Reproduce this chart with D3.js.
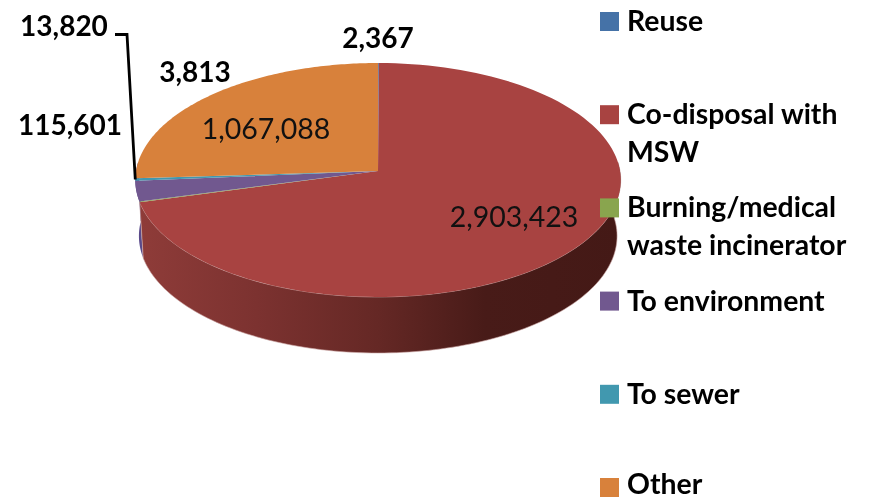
<!DOCTYPE html>
<html>
<head>
<meta charset="utf-8">
<style>
  html, body { margin: 0; padding: 0; background: #fff; }
  svg { display: block; }
  text { font-family: Lato, "Open Sans", sans-serif; fill: #000; filter: blur(0.45px); }
  .outer { font-size: 28px; font-weight: 700; }
  .inner { font-size: 28.5px; font-weight: 400; fill: #111; }
  .legend { font-size: 28.4px; font-weight: 700; }
</style>
</head>
<body>
<svg width="870" height="501"></svg>
<script src="https://d3js.org/d3.v7.min.js"></script>
<script>
const categories = ["Reuse", "Co-disposal with MSW", "Burning/medical waste incinerator", "To environment", "To sewer", "Other"];
const values = [2367, 2903423, 3813, 115601, 13820, 1067088];
const colors = ["#4572a7", "#a84341", "#89a54e", "#71588f", "#4198af", "#d8813b"];
const legendLines = [["Reuse"], ["Co-disposal with", "MSW"], ["Burning/medical", "waste incinerator"], ["To environment"], ["To sewer"], ["Other"]];
const labelText = ["2,367", "2,903,423", "3,813", "115,601", "13,820", "1,067,088"];

const svg = d3.select("svg");

// pie tilted in perspective: the back is squashed, the front is stretched
const tilt = 1 / 13;
const xScale = d3.scaleLinear().domain([-1, 1]).range([378 - 242, 378 + 242]);
const yScale = d3.scaleLinear().domain([-1, 1]).range([171 + 116.3, 171 - 116.3]);
const depth = 56;
const bottomShrink = 0.985;

const rim = a => {
  const w = 1 + tilt * Math.cos(a);
  return [xScale(Math.sin(a) / w), yScale(Math.cos(a) / w)];
};
const centre = [xScale(0), yScale(0)];
const arcPoints = (a0, a1) => d3.range(0, 1.0001, 1 / 120).map(t => rim(a0 + (a1 - a0) * t));

const arcs = d3.pie().sort(null)(values);
const line = d3.line();

const defs = svg.append("defs");
const grad = defs.append("linearGradient").attr("id", "wall")
  .attr("gradientUnits", "userSpaceOnUse")
  .attr("x1", 136).attr("x2", 620).attr("y1", 0).attr("y2", 0);
[[0, "#8f3c39"], [0.25, "#7c3230"], [0.5, "#652825"], [0.72, "#481b18"], [1, "#441916"]].forEach(s =>
  grad.append("stop").attr("offset", s[0]).attr("stop-color", s[1]));

// side walls, only for the part of the rim that faces the viewer
const wallEnd = Math.PI * 1.5 + Math.asin(tilt);
const wallStart = Math.PI * 0.5 - Math.asin(tilt);
const wallPath = (a0, a1) => {
  const top = arcPoints(a0, a1);
  const bottom = top.map(p => [centre[0] + (p[0] - centre[0]) * bottomShrink, p[1] + depth]).reverse();
  return line(top.concat(bottom)) + "Z";
};
svg.append("path").attr("d", wallPath(arcs[3].startAngle, wallEnd)).attr("fill", "#5a4a8a");
svg.append("path").attr("d", wallPath(wallStart, arcs[1].endAngle)).attr("fill", "url(#wall)")
  .attr("stroke", "#c9a3a1").attr("stroke-width", 0.6);

// top face
svg.append("g").selectAll("path").data(arcs).join("path")
  .attr("d", d => line([centre].concat(arcPoints(d.startAngle, d.endAngle))) + "Z")
  .attr("fill", (d, i) => colors[i]);

// leader for the To sewer label
svg.append("path")
  .attr("d", line([[115, 34.5], [127, 34.5], rim((arcs[4].startAngle + arcs[4].endAngle) / 2)]))
  .attr("fill", "none").attr("stroke", "#000").attr("stroke-width", 2.8);

const labels = svg.append("g");
const labelPos = [[378, 48, "outer"], [514, 227, "inner"], [195, 82, "outer"], [70, 135, "outer"], [64, 36, "outer"], [266, 139, "inner"]];
labels.selectAll("text").data(labelText).join("text")
  .attr("x", (d, i) => labelPos[i][0])
  .attr("y", (d, i) => labelPos[i][1])
  .attr("class", (d, i) => labelPos[i][2])
  .attr("text-anchor", "middle")
  .text(d => d);

// legend sits on top of the pie, rows are evenly spaced
const legendY = d3.scalePoint().domain(categories).range([12, 478]);
const rows = svg.append("g").selectAll("g").data(categories).join("g")
  .attr("transform", d => `translate(600,${legendY(d)})`);
rows.append("rect").attr("width", 19).attr("height", 19).attr("fill", (d, i) => colors[i]);
rows.each(function (d, i) {
  d3.select(this).selectAll("text").data(legendLines[i]).join("text")
    .attr("class", "legend")
    .attr("x", 27)
    .attr("y", (t, j) => (i === 5 ? 16 : 19) + j * 38)
    .text(t => t);
});
</script>
</body>
</html>
